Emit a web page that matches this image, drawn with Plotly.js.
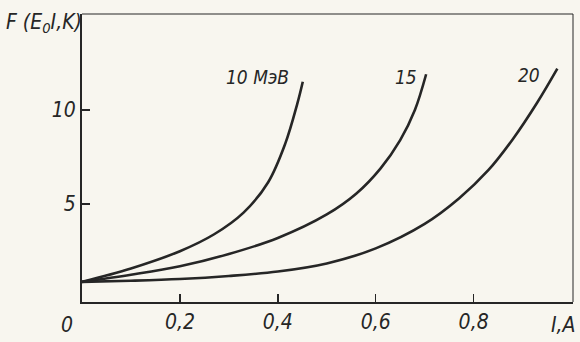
<!DOCTYPE html>
<html>
<head>
<meta charset="utf-8">
<script src="https://cdn.plot.ly/plotly-3.0.1.min.js"></script>
<style>
html,body{margin:0;padding:0;background:#f8f6ef;}
#chart{width:580px;height:342px;}
</style>
</head>
<body>
<div id="chart"></div>
<script>
// Data: F(E0, I, K) versus I (A)
const I10 = [0, 0.1, 0.2, 0.27, 0.33, 0.38, 0.415, 0.44, 0.451];
const F10 = [0.87, 1.58, 2.5, 3.4, 4.55, 6.15, 8.2, 10.35, 11.5];

const I15 = [0, 0.1, 0.2, 0.3, 0.4, 0.5, 0.56, 0.61, 0.65, 0.68, 0.703];
const F15 = [0.87, 1.25, 1.7, 2.35, 3.2, 4.45, 5.55, 6.9, 8.4, 10.0, 11.9];

const I20 = [0, 0.1, 0.2, 0.3, 0.4, 0.5, 0.6, 0.7, 0.77, 0.83, 0.88, 0.93, 0.971];
const F20 = [0.87, 0.93, 1.02, 1.18, 1.42, 1.85, 2.65, 3.95, 5.3, 6.8, 8.45, 10.4, 12.2];

const curveLabels = ["10 МэВ", "15", "20"];
const xTickVals = [0.2, 0.4, 0.6, 0.8];
const xTickText = ["0,2", "0,4", "0,6", "0,8"];
const yTickVals = [5, 10];
const yTickText = ["5", "10"];

const ink = "#262626";
const fontFam = "'Liberation Sans Narrow', 'DejaVu Sans Condensed', 'Liberation Sans', sans-serif";
const f = (size) => ({family: fontFam, size: size, color: ink, style: "italic"});

function curve(x, y) {
  return {x: x, y: y, type: "scatter", mode: "lines",
          line: {color: ink, width: 2.6, shape: "spline", smoothing: 1},
          hoverinfo: "skip", showlegend: false};
}

const data = [curve(I10, F10), curve(I15, F15), curve(I20, F20)];

const layout = {
  width: 580, height: 342,
  margin: {l: 82, r: 7, t: 14, b: 40},
  paper_bgcolor: "#f8f6ef",
  plot_bgcolor: "#f8f6ef",
  showlegend: false,
  xaxis: {
    range: [0, 1.003], showgrid: false, zeroline: false,
    showline: true, linecolor: ink, linewidth: 2,
    ticks: "inside", ticklen: 8, tickwidth: 1.5, tickcolor: ink,
    tickvals: xTickVals, ticktext: xTickText, tickfont: f(21)
  },
  yaxis: {
    range: [-0.2, 15.1], showgrid: false, zeroline: false,
    showline: true, linecolor: ink, linewidth: 2,
    ticks: "inside", ticklen: 8, tickwidth: 1.5, tickcolor: ink,
    tickvals: yTickVals, ticktext: yTickText, tickfont: f(21)
  },
  shapes: [
    {type: "line", xref: "paper", yref: "paper", x0: 0, x1: 1, y0: 1, y1: 1,
     line: {color: ink, width: 1}},
    {type: "line", xref: "paper", yref: "paper", x0: 1, x1: 1, y0: 0, y1: 1,
     line: {color: ink, width: 1}}
  ],
  annotations: [
    {text: curveLabels[0], x: I10[I10.length-1], y: F10[F10.length-1], xref: "x", yref: "y",
     xanchor: "right", yanchor: "middle", xshift: -12, yshift: 5, showarrow: false, font: f(19)},
    {text: curveLabels[1], x: I15[I15.length-1], y: F15[F15.length-1], xref: "x", yref: "y",
     xanchor: "right", yanchor: "middle", xshift: -7, yshift: -3, showarrow: false, font: f(19)},
    {text: curveLabels[2], x: I20[I20.length-1], y: F20[F20.length-1], xref: "x", yref: "y",
     xanchor: "right", yanchor: "middle", xshift: -15, yshift: -6, showarrow: false, font: f(19)},
    {text: "0", x: 0, y: 0, xref: "paper", yref: "paper", xanchor: "center", yanchor: "top",
     xshift: -15, yshift: -9, showarrow: false, font: f(21)},
    {text: "I,A", x: 1, y: 0, xref: "paper", yref: "paper", xanchor: "right", yanchor: "top",
     xshift: 5, yshift: -9, showarrow: false, font: f(21)},
    {text: "F (E<sub>0</sub>I,K)", x: 0, y: 1, xref: "paper", yref: "paper", xanchor: "right",
     yanchor: "middle", xshift: 2, yshift: -9, showarrow: false, font: f(21)}
  ]
};

Plotly.newPlot("chart", data, layout, {staticPlot: true, displayModeBar: false});
</script>
</body>
</html>
